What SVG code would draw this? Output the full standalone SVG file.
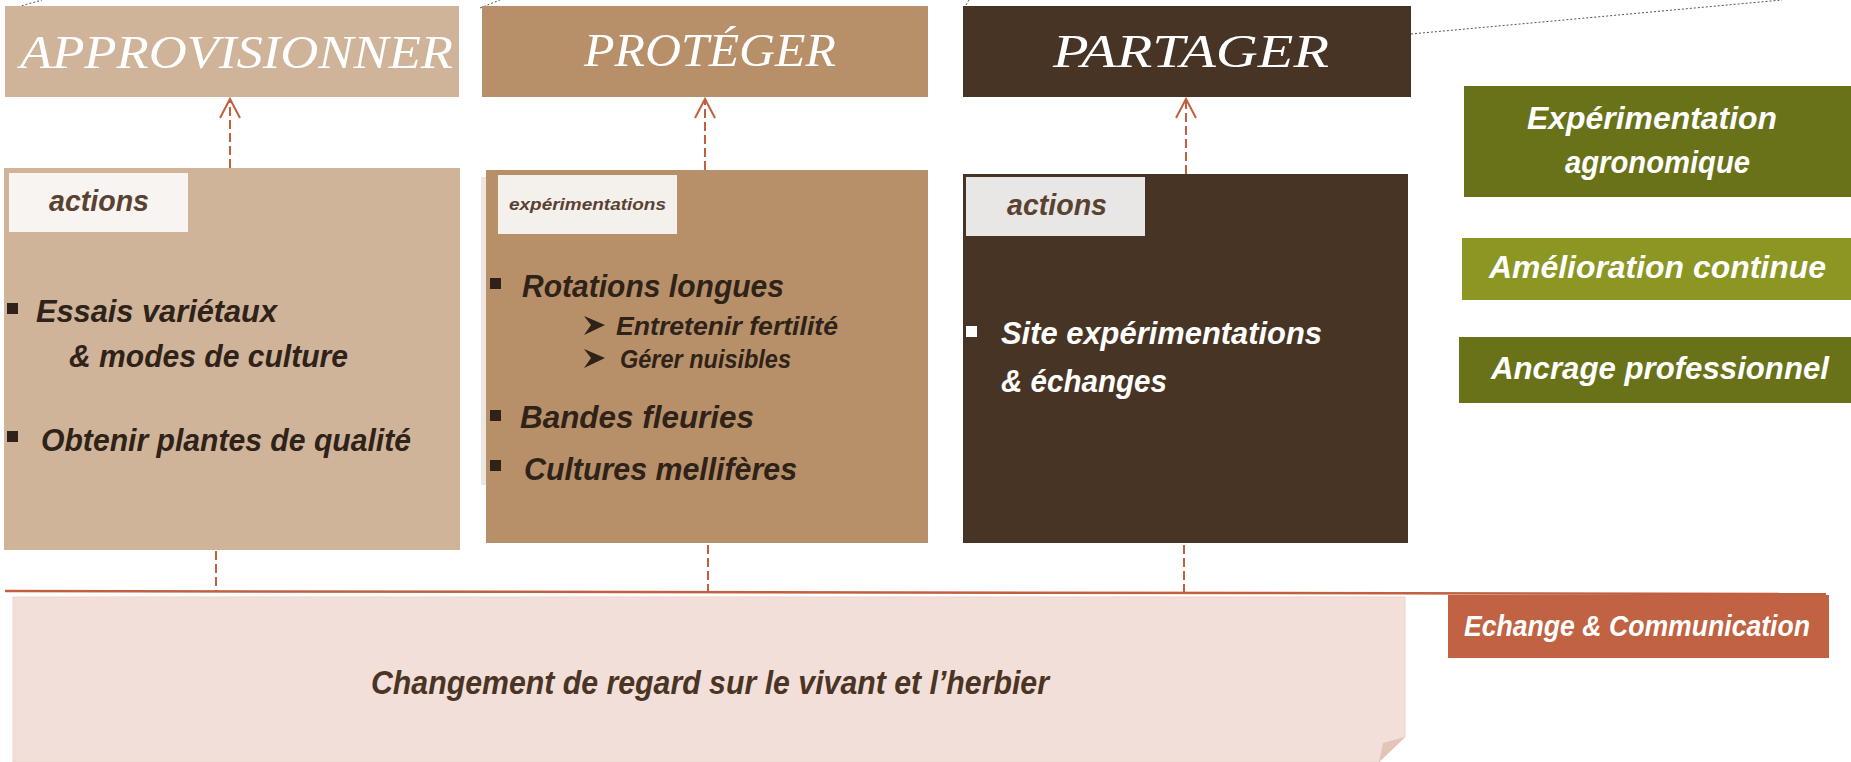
<svg xmlns="http://www.w3.org/2000/svg" width="1851" height="762" viewBox="0 0 1851 762">
<defs>
<style>
.hdr{font-family:"Liberation Serif","DejaVu Serif",serif;font-style:italic;font-size:47px;fill:#ffffff;text-anchor:start}
.lbl{font-family:"Liberation Sans","DejaVu Sans",sans-serif;font-style:italic;font-weight:bold;fill:#5A4232}
.body{font-family:"Liberation Sans","DejaVu Sans",sans-serif;font-style:italic;font-weight:bold;fill:#2F2218}
.wbody{font-family:"Liberation Sans","DejaVu Sans",sans-serif;font-style:italic;font-weight:bold;fill:#ffffff}
.conn{stroke:#C0603F;stroke-width:2;fill:none;stroke-dasharray:9 4}
.lead{stroke:#555555;stroke-width:1;fill:none;stroke-dasharray:2 2}
</style>
<marker id="arr" markerUnits="userSpaceOnUse" markerWidth="24" markerHeight="24" viewBox="-20 -12 24 24" refX="0" refY="0" orient="auto">
<path d="M-19,-10 L0,0 L-19,10" fill="none" stroke="#C0603F" stroke-width="2" stroke-dasharray="none"/>
</marker>
</defs>
<rect width="1851" height="762" fill="#ffffff"/>

<g id="connectors">
<line class="lead" x1="14" y1="8" x2="42" y2="0"/>
<line class="lead" x1="480" y1="8" x2="500" y2="0"/>
<line class="lead" x1="966" y1="5" x2="969" y2="0"/>
<line class="lead" x1="1411" y1="34" x2="1782" y2="0"/>
<line class="conn" x1="230" y1="168" x2="230" y2="99" marker-end="url(#arr)"/>
<line class="conn" x1="705" y1="170" x2="705" y2="99" marker-end="url(#arr)"/>
<line class="conn" x1="1186" y1="174" x2="1186" y2="99" marker-end="url(#arr)"/>
<line class="conn" x1="216" y1="551" x2="216" y2="592"/>
<line class="conn" x1="708" y1="545" x2="708" y2="597"/>
<line class="conn" x1="1184" y1="545" x2="1184" y2="597"/>
<line x1="5" y1="591" x2="1826" y2="594" stroke="#C0603F" stroke-width="2.5"/>
</g>

<g id="approvisionner">
<rect x="5" y="6" width="454" height="91" fill="#CFB49A"/>
<text class="hdr" x="20" y="68" textLength="433" lengthAdjust="spacingAndGlyphs">APPROVISIONNER</text>
</g>
<g id="proteger">
<rect x="482" y="6" width="446" height="91" fill="#B79069"/>
<text class="hdr" x="584" y="66" textLength="252" lengthAdjust="spacingAndGlyphs">PROTÉGER</text>
</g>
<g id="partager">
<rect x="963" y="6" width="448" height="91" fill="#483425"/>
<text class="hdr" x="1053" y="67" textLength="276" lengthAdjust="spacingAndGlyphs">PARTAGER</text>
</g>

<g id="actions-approvisionner">
<rect x="4" y="168" width="456" height="382" fill="#CFB49A"/>
<rect x="9" y="173" width="179" height="59" fill="#F8F4F1"/>
<text class="lbl" x="49" y="211" font-size="29" textLength="100" lengthAdjust="spacingAndGlyphs">actions</text>
<rect x="7" y="303" width="11" height="11" fill="#2F2218"/>
<text class="body" x="36" y="322" font-size="32" textLength="241" lengthAdjust="spacingAndGlyphs">Essais variétaux</text>
<text class="body" x="69" y="367" font-size="32" textLength="279" lengthAdjust="spacingAndGlyphs">&amp; modes de culture</text>
<rect x="7" y="431" width="11" height="11" fill="#2F2218"/>
<text class="body" x="41" y="451" font-size="32" textLength="370" lengthAdjust="spacingAndGlyphs">Obtenir plantes de qualité</text>
</g>

<g id="experimentations-proteger">
<rect x="481" y="177" width="6" height="308" fill="#EDE6E0"/>
<rect x="486" y="170" width="442" height="373" fill="#B79069"/>
<rect x="498" y="175" width="179" height="59" fill="#F4F0EC"/>
<text class="lbl" x="509" y="210" font-size="17" textLength="157" lengthAdjust="spacingAndGlyphs">expérimentations</text>
<rect x="490" y="278" width="11" height="11" fill="#2F2218"/>
<text class="body" x="522" y="297" font-size="32" textLength="262" lengthAdjust="spacingAndGlyphs">Rotations longues</text>
<polygon points="584,316 605,325 584,335 591,325" fill="#2F2218"/>
<text class="body" x="616" y="335" font-size="25" textLength="222" lengthAdjust="spacingAndGlyphs">Entretenir fertilité</text>
<polygon points="584,349 605,358 584,368 591,358" fill="#2F2218"/>
<text class="body" x="620" y="368" font-size="25" textLength="171" lengthAdjust="spacingAndGlyphs">Gérer nuisibles</text>
<rect x="490" y="410" width="11" height="11" fill="#2F2218"/>
<text class="body" x="520" y="428" font-size="32" textLength="234" lengthAdjust="spacingAndGlyphs">Bandes fleuries</text>
<rect x="490" y="460" width="11" height="11" fill="#2F2218"/>
<text class="body" x="524" y="480" font-size="32" textLength="273" lengthAdjust="spacingAndGlyphs">Cultures mellifères</text>
</g>

<g id="actions-partager">
<rect x="963" y="174" width="445" height="369" fill="#483425"/>
<rect x="966" y="177" width="179" height="59" fill="#E9E7E5"/>
<text class="lbl" x="1007" y="215" font-size="29" textLength="100" lengthAdjust="spacingAndGlyphs">actions</text>
<rect x="966" y="326" width="11" height="11" fill="#ffffff"/>
<text class="wbody" x="1001" y="344" font-size="32" textLength="321" lengthAdjust="spacingAndGlyphs">Site  expérimentations</text>
<text class="wbody" x="1001" y="392" font-size="32" textLength="166" lengthAdjust="spacingAndGlyphs">&amp; échanges</text>
</g>

<g id="experimentation-agronomique">
<rect x="1464" y="86" width="387" height="111" fill="#697119"/>
<text class="wbody" x="1527" y="129" font-size="31" textLength="250" lengthAdjust="spacingAndGlyphs">Expérimentation</text>
<text class="wbody" x="1565" y="173" font-size="31" textLength="185" lengthAdjust="spacingAndGlyphs">agronomique</text>
</g>
<g id="amelioration-continue">
<rect x="1462" y="238" width="389" height="62" fill="#8B9623"/>
<text class="wbody" x="1489" y="278" font-size="31" textLength="337" lengthAdjust="spacingAndGlyphs">Amélioration continue</text>
</g>
<g id="ancrage-professionnel">
<rect x="1459" y="337" width="392" height="66" fill="#697119"/>
<text class="wbody" x="1491" y="379" font-size="31" textLength="338" lengthAdjust="spacingAndGlyphs">Ancrage professionnel</text>
</g>

<g id="changement">
<polygon points="13,597 1405,597 1405,737 1379,762 13,762" fill="#F2DFD9" stroke="#EDD3CB" stroke-width="1"/>
<polygon points="1405,737 1383,743 1379,762" fill="#E2C4B9"/>
<text class="body" x="371" y="694" font-size="33" style="fill:#4A3424" textLength="678" lengthAdjust="spacingAndGlyphs">Changement de regard sur le vivant et l’herbier</text>
</g>

<g id="echange-communication">
<rect x="1448" y="595" width="381" height="63" fill="#C16243"/>
<text class="wbody" x="1464" y="636" font-size="29" textLength="346" lengthAdjust="spacingAndGlyphs">Echange &amp; Communication</text>
</g>
</svg>
